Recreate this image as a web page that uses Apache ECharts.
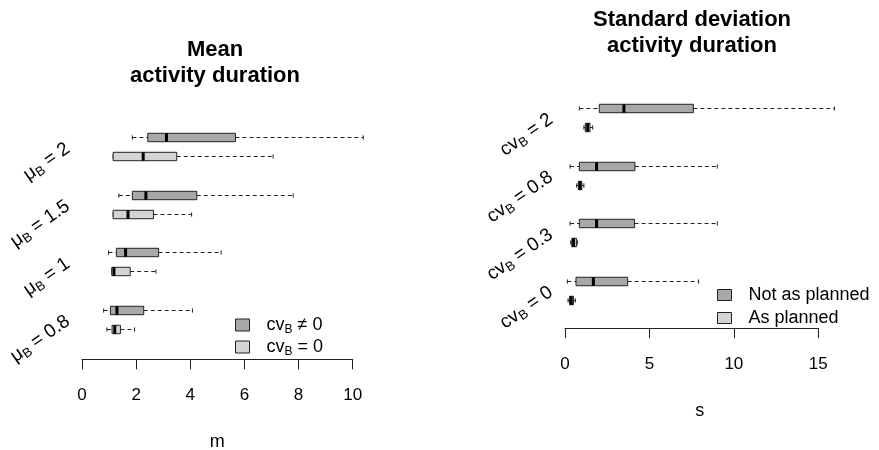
<!DOCTYPE html>
<html>
<head>
<meta charset="utf-8">
<script src="https://cdn.jsdelivr.net/npm/echarts@6/dist/echarts.min.js"></script>
<style>
  html, body { margin: 0; padding: 0; background: #fff; }
  #chart { width: 879px; height: 450px; }
</style>
</head>
<body>
<div id="chart"></div>
<script>
// 箱线图数据: [下须, Q1, 中位数, Q3, 上须]
const meanGroups = ['0.8', '1', '1.5', '2'];
const meanVaried = [
  [0.80, 1.05, 1.29, 2.28, 4.08],
  [0.98, 1.27, 1.61, 2.83, 5.14],
  [1.36, 1.86, 2.36, 4.24, 7.80],
  [1.86, 2.43, 3.12, 5.67, 10.39]
];
const meanFixed = [
  [0.92, 1.11, 1.21, 1.42, 1.94],
  [1.10, 1.10, 1.18, 1.78, 2.73],
  [1.15, 1.15, 1.70, 2.64, 4.05],
  [1.15, 1.15, 2.26, 3.50, 7.06]
];
const meanTicks = [0, 2, 4, 6, 8, 10];

const sdGroups = ['0', '0.3', '0.8', '2'];
const sdNotPlanned = [
  [0.14, 0.65, 1.68, 3.71, 7.91],
  [0.30, 0.85, 1.87, 4.12, 9.02],
  [0.30, 0.85, 1.87, 4.14, 9.02],
  [0.85, 2.03, 3.49, 7.60, 15.95]
];
const sdPlanned = [
  [0.18, 0.27, 0.37, 0.50, 0.61],
  [0.34, 0.40, 0.51, 0.69, 0.73],
  [0.69, 0.79, 0.89, 1.00, 1.12],
  [1.12, 1.20, 1.34, 1.48, 1.64]
];
const sdTicks = [0, 5, 10, 15];

const FONT = 'Liberation Sans, Arial, sans-serif';
const DARK = '#a8a8a8';
const LIGHT = '#d4d4d4';
const EDGE = '#222';

// 每组两个箱子: 上面深色, 下面浅色, 组间空一格
const toRows = (stats, offset) => stats.map((s, i) => [i * 3 + offset].concat(s));
const groupCenters = meanGroups.map((g, i) => i * 3 + 1.5);

const boxRenderer = (fill) => (params, api) => {
  const y = api.value(0);
  const p = [1, 2, 3, 4, 5].map(i => api.coord([api.value(i), y]));
  const h = api.size([0, 0.44])[1];
  const cy = Math.round(p[0][1]) + 0.5;
  const dash = { stroke: EDGE, lineWidth: 1, lineDash: [4, 3] };
  const solid = { stroke: EDGE, lineWidth: 1 };
  return {
    type: 'group',
    children: [
      { type: 'line', shape: { x1: p[0][0], y1: cy, x2: p[1][0], y2: cy }, style: dash },
      { type: 'line', shape: { x1: p[3][0], y1: cy, x2: p[4][0], y2: cy }, style: dash },
      { type: 'line', shape: { x1: p[0][0], y1: cy - h / 4, x2: p[0][0], y2: cy + h / 4 }, style: solid },
      { type: 'line', shape: { x1: p[4][0], y1: cy - h / 4, x2: p[4][0], y2: cy + h / 4 }, style: solid },
      { type: 'rect', shape: { x: p[1][0], y: cy - h / 2, width: p[3][0] - p[1][0], height: h },
        style: { fill: fill, stroke: EDGE, lineWidth: 1 } },
      { type: 'line', shape: { x1: p[2][0], y1: cy - h / 2, x2: p[2][0], y2: cy + h / 2 },
        style: { stroke: '#000', lineWidth: 3 } }
    ]
  };
};

const subRich = {
  t: { fontSize: 19, fontFamily: FONT, color: '#000', lineHeight: 22 },
  s: { fontSize: 13, fontFamily: FONT, color: '#000', lineHeight: 10, verticalAlign: 'bottom' }
};
const legendRich = {
  t: { fontSize: 18, fontFamily: FONT, color: '#000', lineHeight: 22 },
  s: { fontSize: 12, fontFamily: FONT, color: '#000', lineHeight: 10, verticalAlign: 'bottom' }
};
const legendText = {
  varied: '{t|cv}{s|B}{t| ≠ 0}',
  fixed: '{t|cv}{s|B}{t| = 0}',
  notPlanned: '{t|Not as planned}',
  planned: '{t|As planned}'
};

const xAxisBase = (ticks, name) => ({
  type: 'value',
  min: ticks[0],
  max: ticks[ticks.length - 1],
  interval: ticks[1] - ticks[0],
  name: name,
  nameLocation: 'middle',
  nameGap: 74,
  nameTextStyle: { fontSize: 18, fontFamily: FONT, color: '#000' },
  axisLine: { onZero: false, lineStyle: { color: '#222', width: 1 } },
  axisTick: { length: 10, lineStyle: { color: '#222' } },
  axisLabel: { fontSize: 17, fontFamily: FONT, color: '#000', margin: 28 },
  splitLine: { show: false }
});

const yAxisBase = (min, formatter) => ({
  type: 'value',
  min: min,
  max: 12,
  axisLine: { show: false },
  axisTick: { show: false },
  splitLine: { show: false },
  axisLabel: {
    customValues: groupCenters,
    rotate: 35,
    margin: 14,
    formatter: formatter,
    rich: subRich
  }
});

const chart = echarts.init(document.getElementById('chart'), null, { renderer: 'canvas' });

chart.setOption({
  animation: false,
  backgroundColor: '#fff',
  title: [
    {
      text: 'Mean\nactivity duration',
      left: 215, top: 37, textAlign: 'center', padding: 0,
      textStyle: { fontSize: 22, fontWeight: 'bold', fontFamily: FONT, color: '#000', lineHeight: 26 }
    },
    {
      text: 'Standard deviation\nactivity duration',
      left: 692, top: 7, textAlign: 'center', padding: 0,
      textStyle: { fontSize: 22, fontWeight: 'bold', fontFamily: FONT, color: '#000', lineHeight: 26 }
    }
  ],
  legend: [
    {
      orient: 'vertical', left: 235, top: 316, padding: 0,
      itemWidth: 14, itemHeight: 12, itemGap: 2, icon: 'rect',
      selectedMode: false,
      data: ['varied', 'fixed'],
      formatter: n => legendText[n],
      itemStyle: { borderColor: EDGE, borderWidth: 1 },
      textStyle: { padding: [0, 0, 0, 12], rich: legendRich }
    },
    {
      orient: 'vertical', left: 717, top: 286, padding: 0,
      itemWidth: 14, itemHeight: 11, itemGap: 5, icon: 'rect',
      selectedMode: false,
      data: ['notPlanned', 'planned'],
      formatter: n => legendText[n],
      itemStyle: { borderColor: EDGE, borderWidth: 1 },
      textStyle: { padding: [0, 0, 0, 12], rich: legendRich }
    }
  ],
  grid: [
    { left: 82, width: 270.7, top: 118.1, bottom: 90.7, outerBoundsMode: 'none' },
    { left: 565, width: 253.3, top: 88.8, bottom: 121.7, outerBoundsMode: 'none' }
  ],
  xAxis: [
    Object.assign(xAxisBase(meanTicks, 'm'), { gridIndex: 0 }),
    Object.assign(xAxisBase(sdTicks, 's'), { gridIndex: 1, nameTextStyle: { fontSize: 18, fontFamily: FONT, color: '#000', padding: [0, 0, 0, 16] } })
  ],
  yAxis: [
    Object.assign(yAxisBase(-0.58, v => '{t|μ}{s|B}{t| = ' + meanGroups[groupCenters.indexOf(v)] + '}'), { gridIndex: 0 }),
    Object.assign(yAxisBase(-0.47, v => '{t|cv}{s|B}{t| = ' + sdGroups[groupCenters.indexOf(v)] + '}'), { gridIndex: 1 })
  ],
  series: [
    { type: 'custom', name: 'varied', xAxisIndex: 0, yAxisIndex: 0, clip: false, silent: true,
      itemStyle: { color: DARK }, data: toRows(meanVaried, 2), renderItem: boxRenderer(DARK),
      encode: { x: [1, 2, 3, 4, 5], y: 0 } },
    { type: 'custom', name: 'fixed', xAxisIndex: 0, yAxisIndex: 0, clip: false, silent: true,
      itemStyle: { color: LIGHT }, data: toRows(meanFixed, 1), renderItem: boxRenderer(LIGHT),
      encode: { x: [1, 2, 3, 4, 5], y: 0 } },
    { type: 'custom', name: 'notPlanned', xAxisIndex: 1, yAxisIndex: 1, clip: false, silent: true,
      itemStyle: { color: DARK }, data: toRows(sdNotPlanned, 2), renderItem: boxRenderer(DARK),
      encode: { x: [1, 2, 3, 4, 5], y: 0 } },
    { type: 'custom', name: 'planned', xAxisIndex: 1, yAxisIndex: 1, clip: false, silent: true,
      itemStyle: { color: LIGHT }, data: toRows(sdPlanned, 1), renderItem: boxRenderer(LIGHT),
      encode: { x: [1, 2, 3, 4, 5], y: 0 } }
  ]
});
</script>
</body>
</html>
